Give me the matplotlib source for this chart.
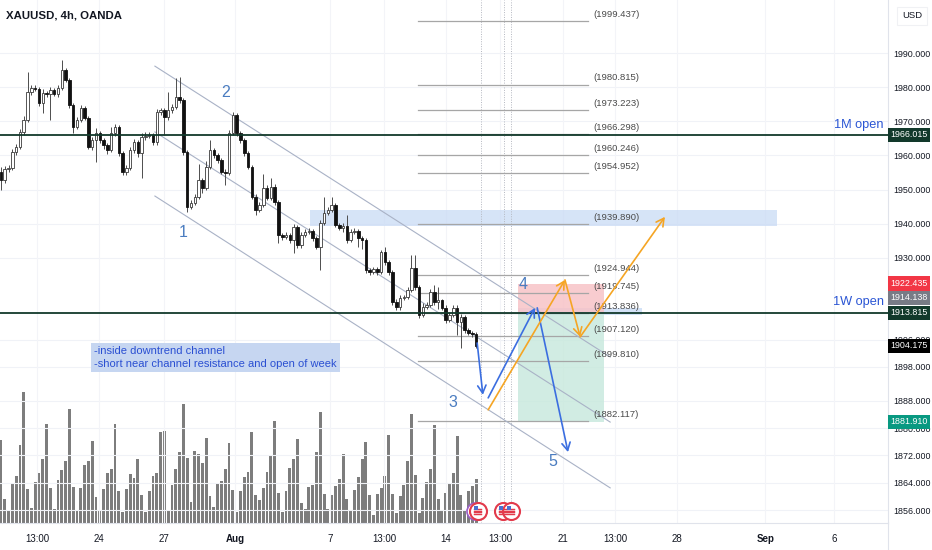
import numpy as np
import matplotlib.pyplot as plt
import matplotlib.transforms as mtransforms
from matplotlib.lines import Line2D

plt.rcParams['font.family'] = ['Liberation Sans', 'DejaVu Sans']

# ---- 4h candles (bar index 0 = first visible candle) ----
first_open = 1955.2
closes = [1952.8, 1956.0, 1956.3, 1961.0, 1962.5, 1966.9, 1970.4, 1978.6, 1979.8, 1979.5,
          1975.4, 1978.3, 1978.0, 1979.2, 1978.0, 1979.8, 1985.1, 1982.1, 1974.8, 1968.4,
          1970.4, 1973.9, 1971.0, 1962.5, 1964.5, 1966.6, 1964.5, 1963.1, 1961.6, 1966.6,
          1968.4, 1960.7, 1955.2, 1956.3, 1961.6, 1963.9, 1960.7, 1965.4, 1965.8, 1966.0,
          1963.9, 1972.8, 1973.2, 1971.3, 1973.3, 1974.2, 1977.2, 1976.3, 1961.0, 1944.9,
          1946.1, 1947.9, 1952.8, 1950.5, 1956.6, 1961.6, 1960.1, 1958.7, 1955.2, 1954.9,
          1966.6, 1971.9, 1966.6, 1964.5, 1960.7, 1956.6, 1947.9, 1944.0, 1945.5, 1950.5,
          1947.5, 1950.8, 1946.4, 1936.7, 1936.1, 1936.7, 1935.2, 1939.0, 1933.8, 1936.7,
          1937.6, 1937.9, 1935.8, 1933.2, 1940.2, 1943.1, 1944.0, 1945.5, 1939.6, 1938.7,
          1939.4, 1935.2, 1937.6, 1937.9, 1935.8, 1935.2, 1926.4, 1925.8, 1926.7, 1925.8,
          1931.7, 1928.8, 1925.8, 1917.0, 1915.6, 1918.2, 1918.5, 1920.6, 1927.0, 1921.4,
          1913.2, 1915.6, 1916.2, 1920.0, 1917.0, 1917.5, 1915.3, 1911.8, 1913.2, 1915.3,
          1911.2, 1912.6, 1908.8, 1907.9, 1907.7, 1904.175]
highs = [1956.5, 1957.0, 1957.2, 1961.8, 1963.5, 1967.8, 1971.5, 1984.5, 1980.8, 1980.6,
         1980.0, 1979.5, 1979.0, 1980.2, 1979.8, 1980.6, 1988.0, 1985.8, 1982.8, 1975.3,
         1971.2, 1974.8, 1974.5, 1971.6, 1965.3, 1968.0, 1967.2, 1965.2, 1963.8, 1968.4,
         1969.2, 1968.9, 1961.2, 1957.2, 1962.4, 1964.8, 1964.5, 1966.5, 1966.8, 1967.0,
         1966.6, 1973.6, 1974.0, 1973.9, 1978.6, 1975.2, 1982.7, 1983.0, 1977.0, 1961.6,
         1947.0, 1948.8, 1957.5, 1953.5, 1958.5, 1964.5, 1962.3, 1960.8, 1959.3, 1956.0,
         1967.4, 1972.8, 1972.6, 1967.2, 1965.1, 1961.3, 1957.2, 1948.6, 1946.4, 1954.5,
         1951.2, 1953.5, 1951.5, 1947.0, 1937.4, 1937.6, 1937.3, 1940.0, 1939.6, 1937.5,
         1938.4, 1938.8, 1938.5, 1936.4, 1941.0, 1947.9, 1944.8, 1947.9, 1946.1, 1940.3,
         1940.2, 1942.5, 1938.4, 1938.6, 1938.4, 1936.4, 1935.8, 1927.0, 1927.4, 1927.3,
         1932.4, 1933.2, 1929.4, 1926.4, 1917.8, 1919.0, 1919.2, 1921.4, 1930.8, 1930.8,
         1922.0, 1916.6, 1917.0, 1920.8, 1922.0, 1921.4, 1918.0, 1916.0, 1914.0, 1916.0,
         1916.0, 1913.4, 1913.2, 1909.4, 1908.6, 1908.2]
lows = [1949.9, 1952.0, 1955.2, 1955.8, 1960.2, 1961.8, 1966.0, 1969.8, 1977.8, 1978.8,
        1974.5, 1972.5, 1977.2, 1970.4, 1977.3, 1977.2, 1979.2, 1981.5, 1974.0, 1966.6,
        1967.8, 1969.8, 1970.3, 1961.8, 1961.5, 1958.1, 1963.8, 1962.0, 1960.5, 1961.0,
        1965.8, 1959.8, 1954.3, 1954.3, 1955.6, 1960.8, 1959.5, 1953.4, 1964.6, 1965.0,
        1963.0, 1963.2, 1971.8, 1966.0, 1970.5, 1972.5, 1973.6, 1975.5, 1960.2, 1943.4,
        1944.2, 1945.4, 1947.2, 1949.0, 1949.8, 1956.0, 1959.3, 1957.8, 1954.5, 1951.3,
        1954.2, 1966.0, 1965.8, 1963.8, 1959.9, 1955.9, 1947.1, 1942.5, 1943.3, 1944.8,
        1946.8, 1946.8, 1945.6, 1934.3, 1935.3, 1935.4, 1934.4, 1931.4, 1933.0, 1933.0,
        1936.0, 1937.0, 1935.0, 1932.5, 1926.4, 1939.6, 1942.5, 1943.4, 1938.9, 1938.0,
        1937.6, 1934.4, 1934.6, 1937.0, 1933.2, 1932.5, 1925.6, 1925.0, 1925.2, 1925.0,
        1925.2, 1928.0, 1925.0, 1916.2, 1914.8, 1914.8, 1917.6, 1917.8, 1920.0, 1920.6,
        1912.4, 1912.5, 1915.0, 1915.5, 1916.2, 1915.0, 1914.6, 1911.0, 1911.2, 1912.6,
        1907.4, 1903.5, 1908.0, 1907.2, 1906.9, 1903.6]
volumes = [250, 73, 35, 117, 140, 235, 393, 103, 45, 123,
           150, 192, 298, 105, 42, 129, 158, 185, 342, 108,
           38, 105, 173, 185, 247, 78, 37, 103, 150, 163,
           297, 97, 33, 103, 148, 135, 193, 85, 33, 95,
           142, 150, 273, 277, 38, 115, 163, 213, 357, 195,
           62, 217, 207, 180, 255, 82, 48, 120, 125, 163,
           240, 98, 33, 95, 138, 153, 273, 83, 68, 105,
           152, 203, 307, 90, 33, 95, 165, 193, 253, 60,
           42, 107, 115, 213, 333, 87, 42, 83, 110, 132,
           207, 72, 37, 98, 138, 192, 243, 85, 25, 88,
           105, 140, 265, 88, 30, 82, 115, 185, 328, 143,
           30, 75, 123, 162, 293, 73, 37, 90, 120, 150,
           262, 84, 39, 96, 110, 132]

# time axis (bar index of each date label)
tick_bars = [9.5, 25.8, 42.9, 61.6, 86.6, 100.8, 117.1, 131.3, 147.9, 161.6, 177.9, 201.1, 219.2]
tick_labels = ['13:00', '24', '27', 'Aug', '7', '13:00', '14', '13:00', '21', '13:00', '28', 'Sep', '6']
bold_labels = ['Aug', 'Sep']
price_ticks = [1990, 1980, 1970, 1960, 1950, 1940, 1930, 1906, 1898, 1888, 1880, 1872, 1864, 1856]

# drawings
month_open = 1966.015
week_open = 1913.815
channel_bars = [40.5, 160.3]
channel_upper = [1986.2, 1900.9]
channel_mid = [1966.9, 1881.8]
channel_lower = [1948.1, 1862.5]

fib_bars = [109.7, 154.5]
fib_levels = [1999.437, 1980.815, 1973.223, 1966.298, 1960.246, 1954.952,
              1939.890, 1924.944, 1919.745, 1913.836, 1907.120, 1899.810, 1882.117]

zone_bars = [81.3, 204.2]
zone_prices = [1939.3, 1944.0]
small_zone_bars = [136.0, 168.7]
small_zone_prices = [1913.2, 1915.3]

pos_bars = [136.0, 158.7]
entry, stop, target = 1914.138, 1922.435, 1881.910

event_bars = [126.2, 132.4, 134.2]
icon_bars = [125.5, 132.2, 134.2]
icon_price = 1855.6

blue_arrows = [((125.3, 1905.0), (126.8, 1889.8)),
               ((128.2, 1888.9), (140.5, 1915.3)),
               ((141.1, 1915.3), (149.2, 1873.0))]
orange_pts = [(128.2, 1885.4), (148.4, 1923.5), (152.4, 1906.8), (174.7, 1942.0)]

wave_names = ['1', '2', '3', '4', '5']
wave_pos = [(47.9, 1937.3), (59.2, 1978.6), (118.9, 1887.4), (137.4, 1922.3), (145.3, 1870.1)]

note_text = "-inside downtrend channel\n-short near channel resistance and open of week"
note_pos = (24.6, 1904.0)

# ---- figure ----
opens = [first_open] + closes[:-1]
bars = np.arange(len(closes))
c = np.array(closes)
o = np.array(opens)

fig = plt.figure(figsize=(9.32, 5.5), dpi=100)
rect = [0.0, 27 / 550, 888 / 932, 523 / 550]
xlim = (-0.26, 233.4)
ylim = (1852.2, 2005.6)

axv = fig.add_axes(rect)
axv.bar(bars, volumes, width=0.78, color='#7d7d7d', linewidth=0)
axv.set_xlim(*xlim)
axv.set_ylim(0, 1570)
axv.axis('off')

ax = fig.add_axes(rect, facecolor='none')
ax.set_xlim(*xlim)
ax.set_ylim(*ylim)

# grid
for t in price_ticks:
    ax.axhline(t, color='#f0f2f7', lw=0.8, zorder=0)
for t in tick_bars:
    ax.axvline(t, color='#f3f4f8', lw=0.8, zorder=0)

# zones
ax.fill_between(zone_bars, zone_prices[0], zone_prices[1], color='#c9dbf5', alpha=0.75, lw=0, zorder=1)
ax.fill_between(small_zone_bars, small_zone_prices[0], small_zone_prices[1], color='#c9dbf5', alpha=0.8, lw=0, zorder=1)
ax.fill_between(pos_bars, entry, stop, color='#f7c3c7', alpha=0.85, lw=0, zorder=1)
ax.fill_between(pos_bars, target, entry, color='#c6e8dc', alpha=0.8, lw=0, zorder=1)

# event lines
for b in event_bars:
    ax.axvline(b, color='#b4b7c0', lw=0.7, ls=(0, (1, 1.5)), zorder=1)

# fib lines
for lv in fib_levels:
    ax.plot(fib_bars, [lv, lv], color='#a6a6a6', lw=0.9, zorder=2)
    ax.text(fib_bars[1] + 1.3, lv + 0.6, '(%.3f)' % lv, fontsize=6.8, color='#4a4a4a',
            ha='left', va='bottom', zorder=6)

# channel
for line in (channel_upper, channel_mid, channel_lower):
    ax.plot(channel_bars, line, color='#a9b2c6', lw=0.8, zorder=2)

# month / week open
ytrans = mtransforms.blended_transform_factory(ax.transAxes, ax.transData)
ax.axhline(month_open, color='#12392b', lw=1.3, zorder=5)
ax.axhline(week_open, color='#12392b', lw=1.3, zorder=5)
ax.text(0.995, month_open + 1.3, '1M open', transform=ytrans,
        ha='right', va='bottom', fontsize=9.2, color='#2a55d4', zorder=6)
ax.text(0.995, week_open + 1.3, '1W open', transform=ytrans,
        ha='right', va='bottom', fontsize=9.2, color='#2a55d4', zorder=6)

# candles
ax.vlines(bars, lows, highs, color='#4d4d4d', lw=0.7, zorder=3)
up = c >= o
ax.bar(bars[up], np.abs(c - o)[up], bottom=np.minimum(c, o)[up], width=0.68,
       color='white', edgecolor='#3a3a3a', linewidth=0.6, zorder=4)
ax.bar(bars[~up], np.abs(c - o)[~up], bottom=np.minimum(c, o)[~up], width=0.68,
       color='#111111', edgecolor='#111111', linewidth=0.6, zorder=4)

# arrows
head = '->,head_length=0.55,head_width=0.3'
for a, b in blue_arrows:
    ax.annotate('', xy=b, xytext=a, zorder=7,
                arrowprops=dict(arrowstyle=head, color='#3b6ee0', lw=1.2, shrinkA=0, shrinkB=0))
for a, b in zip(orange_pts[:-1], orange_pts[1:]):
    ax.annotate('', xy=b, xytext=a, zorder=7,
                arrowprops=dict(arrowstyle=head, color='#f5a524', lw=1.2, shrinkA=0, shrinkB=0))

# wave labels
for name, (bx, py) in zip(wave_names, wave_pos):
    ax.text(bx, py, name, fontsize=11.5, color='#4a7cc0', ha='center', va='center', zorder=7)

# note
ax.text(note_pos[0], note_pos[1], note_text, fontsize=8.0, color='#2a4fd2', ha='left', va='top',
        linespacing=1.3, zorder=7,
        bbox=dict(boxstyle='square,pad=0.3', fc='#c6d6f1', ec='none'))

# event icons
ax.scatter([icon_bars[0] - 0.8], [icon_price], s=150, facecolor='white', edgecolor='#9a5cc6',
           lw=1.2, zorder=8, clip_on=False)
ax.scatter(icon_bars, [icon_price] * len(icon_bars), s=150, facecolor='white', edgecolor='#e23a4b',
           lw=1.5, zorder=9, clip_on=False)
ax.scatter(icon_bars, [icon_price - 0.3] * len(icon_bars), s=40, marker='$\\equiv$', color='#e23a4b',
           lw=0.3, zorder=10, clip_on=False)
ax.scatter(np.array(icon_bars) - 0.5, [icon_price + 1.0] * len(icon_bars), s=12, marker='s',
           color='#4a6fd0', lw=0, zorder=11, clip_on=False)

# title
fig.text(6 / 932, 1 - 16 / 550, 'XAUUSD, 4h, OANDA', fontsize=8.2, fontweight='bold',
         color='#131722', ha='left', va='center')

# axes styling
for s in ('top', 'left'):
    ax.spines[s].set_visible(False)
ax.spines['right'].set_color('#e0e3eb')
ax.spines['bottom'].set_color('#e0e3eb')
fig.add_artist(Line2D([888 / 932, 888 / 932], [0, 27 / 550], color='#e0e3eb', lw=0.8))

ax.yaxis.tick_right()
ax.set_yticks(price_ticks, ['%.3f' % t for t in price_ticks])
ax.tick_params(axis='y', length=0, pad=4, labelsize=6.4, labelcolor='#131722')
ax.set_xticks(tick_bars, tick_labels)
ax.tick_params(axis='x', length=0, pad=8, labelsize=7.0, labelcolor='#131722')
for lab in ax.get_xticklabels():
    if lab.get_text() in bold_labels:
        lab.set_fontweight('bold')

# price labels on the right scale
price_labels = [(month_open, '#12392b', 0), (stop, '#f23645', 0), (entry, '#787b86', 10),
                (week_open, '#12392b', 0), (closes[-1], '#000000', 0), (target, '#089981', 0)]
for price, col, dy in price_labels:
    ax.annotate('%.3f' % price, xy=(1.0, price), xycoords=ytrans, xytext=(1.6, dy),
                textcoords='offset points', ha='left', va='center', fontsize=6.4, color='white',
                zorder=12, annotation_clip=False,
                bbox=dict(boxstyle='square,pad=0.3', fc=col, ec='none'))

fig.text(1 - 20 / 932, 1 - 16 / 550, 'USD', fontsize=6.8, color='#131722', ha='center', va='center',
         bbox=dict(boxstyle='square,pad=0.5', fc='white', ec='#f0f1f4', lw=0.8))

fig.savefig('out.png', dpi=100)
